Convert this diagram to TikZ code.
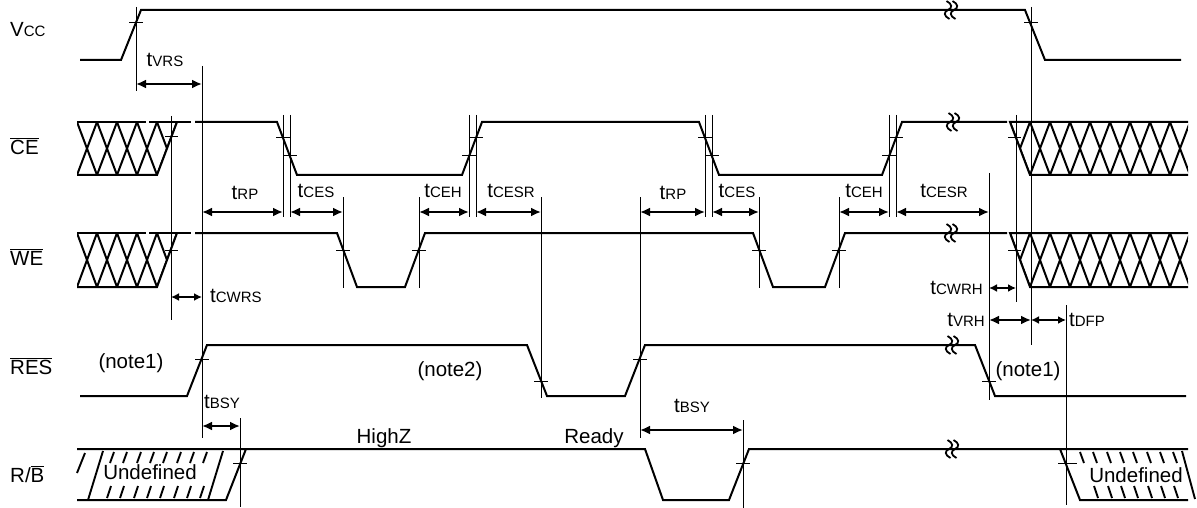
\documentclass[tikz,border=0pt]{standalone}
\usepackage{fontspec}
\setmainfont{Liberation Sans}
\usetikzlibrary{arrows.meta}
\newcommand\bigt{\fontsize{20.5}{24}\selectfont}
\newcommand\smallc{\fontsize{15}{18}\selectfont}
\newcommand\tlab[1]{{\bigt t}{\smallc #1}}
\newcommand\ovl[1]{$\overline{\mbox{#1}}$}
\newcommand\brkmark[2]{%
  \foreach \dd in {-3,3}{%
    \draw[brkline,shift={(#1+\dd,#2)}] (-1.5,-9) .. controls (4.5,-6) and (4.5,-2) .. (0,0) .. controls (-4.5,2) and (-4.5,6) .. (1.5,9);}}
\newcommand\vtick[3]{\draw[thin] (#1-7,#2) -- (#1+7,#2);}
\tikzset{
  sig/.style={line width=2pt, line join=miter},
  thin/.style={line width=1pt},
  hat/.style={line width=1.9pt},
  dim/.style={line width=2pt, {Latex[length=10pt,width=9pt]}-{Latex[length=10pt,width=9pt]}},
  sdim/.style={line width=2pt, {Latex[length=8pt,width=8pt]}-{Latex[length=8pt,width=8pt]}},
  lbl/.style={font=\bigt, inner sep=0pt, anchor=base},
  brkline/.style={line width=1.8pt},
}
\begin{document}
\begin{tikzpicture}[x=1pt,y=-1pt]
\useasboundingbox (0,0) rectangle (1197,508);

% ---------- row labels ----------
\node[lbl,anchor=base west] (lvcc) at (10,37) {V{\smallc CC}};
\node[lbl,anchor=base west] (lce)  at (10,154) {\ovl{CE}};
\node[lbl,anchor=base west] (lwe)  at (10,265) {\ovl{WE}};
\node[lbl,anchor=base west] (lres) at (10,374) {\ovl{RES}};
\node[lbl,anchor=base west] (lrb)  at (10,482) {R/\ovl{B}};

% ---------- Vcc ----------
\draw[sig] (80,60) -- (121,60) -- (141,10) -- (1025,10) -- (1045,60) -- (1181,60);
\brkmark{951}{10}

% ---------- CE ----------
\def\T{122}\def\B{175}
\begin{scope}
  \clip (77,\T) -- (177,\T) -- (157,\B) -- (77,\B) -- cycle;
  \foreach \x in {77,97,117,137,157}{\draw[sig] (\x,\T) -- (\x+20,\B); \draw[sig] (\x,\B) -- (\x+20,\T);}
\end{scope}
\draw[sig] (77,\T) -- (146,\T); \draw[sig] (149,\T) -- (191,\T);
\draw[sig] (77,\B) -- (157,\B) -- (177,\T);
\draw[sig] (195,\T) -- (277,\T) -- (297,\B) -- (462,\B) -- (482,\T) -- (699,\T) -- (719,\B) -- (882,\B) -- (902,\T) -- (1007,\T);
\begin{scope}
  \clip (1010,\T) -- (1188,\T) -- (1188,\B) -- (1030,\B) -- cycle;
  \foreach \x in {1010,1030,...,1170}{\draw[sig] (\x,\T) -- (\x+20,\B); \draw[sig] (\x,\B) -- (\x+20,\T);}
\end{scope}
\draw[sig] (1188,\T) -- (1010,\T) -- (1030,\B) -- (1188,\B);
\brkmark{953}{122}

% ---------- WE ----------
\def\T{233}\def\B{287}
\begin{scope}
  \clip (77,\T) -- (177,\T) -- (157,\B) -- (77,\B) -- cycle;
  \foreach \x in {77,97,117,137,157}{\draw[sig] (\x,\T) -- (\x+20,\B); \draw[sig] (\x,\B) -- (\x+20,\T);}
\end{scope}
\draw[sig] (77,\T) -- (146,\T); \draw[sig] (149,\T) -- (191,\T);
\draw[sig] (77,\B) -- (157,\B) -- (177,\T);
\draw[sig] (195,\T) -- (337,\T) -- (357,\B) -- (405,\B) -- (425,\T) -- (753,\T) -- (773,\B) -- (825,\B) -- (845,\T) -- (1007,\T);
\begin{scope}
  \clip (1010,\T) -- (1188,\T) -- (1188,\B) -- (1030,\B) -- cycle;
  \foreach \x in {1010,1030,...,1170}{\draw[sig] (\x,\T) -- (\x+20,\B); \draw[sig] (\x,\B) -- (\x+20,\T);}
\end{scope}
\draw[sig] (1188,\T) -- (1010,\T) -- (1030,\B) -- (1188,\B);
\brkmark{951}{233}

% ---------- RES ----------
\draw[sig] (80,396) -- (187,396) -- (207,345) -- (527,345) -- (547,396) -- (625,396) -- (645,345) -- (975,345) -- (995,396) -- (1186,396);
\brkmark{952}{345}

% ---------- R/B ----------
\draw[sig] (77,449) -- (645,449) -- (663,500) -- (729,500) -- (749,449) -- (1188,449);
\draw[sig] (77,500) -- (226,500) -- (246,449);
\draw[sig] (1060,449) -- (1080,500) -- (1188,500);
\brkmark{952}{449}
% left hatching
\draw[hat] (77,473) -- (85,453);
\draw[hat] (88,500) -- (103,451);
\foreach \x in {110,123,137,150,163,177,190,203}{\draw[hat] (\x,463) -- (\x+4,452); \draw[hat] (\x-3,498) -- (\x+1,486);}
\draw[hat] (208,500) -- (223,451);
% right hatching
\foreach \x in {1080,1093,1107,1120,1133,1147,1160,1173}{\draw[hat] (\x,452) -- (\x+4,463);}
\foreach \x in {1093,1107,1120,1133,1147,1160,1173}{\draw[hat] (\x+1,486) -- (\x+5,498);}
\draw[hat] (1182,451) -- (1195,499);

% ---------- reference lines ----------
\draw[thin] (136,7) -- (136,91);
\draw[thin] (202,66) -- (202,438);
\draw[thin] (171,116) -- (171,320);
\foreach \x in {283,290,469,476,705,712,889,896}{\draw[thin] (\x,115) -- (\x,217);}
\foreach \x in {343,419,759,839}{\draw[thin] (\x,197) -- (\x,288);}
\draw[thin] (541,197) -- (541,398);
\draw[thin] (640,197) -- (640,438);
\draw[thin] (989,173) -- (989,400);
\draw[thin] (1016,115) -- (1016,302);
\draw[thin] (1031,7) -- (1031,345);
\draw[thin] (1066,305) -- (1066,505);
\draw[thin] (240,418) -- (240,507);
\draw[thin] (743,420) -- (743,508);

% ---------- threshold ticks ----------
\vtick{136}{23}{}
\vtick{1031}{23}{}
\draw[thin] (165,137) -- (178,137);
\vtick{283}{138}{} \vtick{290}{156}{}
\vtick{469}{156}{} \vtick{476}{138}{}
\vtick{705}{138}{} \vtick{712}{156}{}
\vtick{889}{156}{} \vtick{896}{138}{}
\draw[thin] (1008,138) -- (1021,138);
\draw[thin] (165,250) -- (178,250);
\vtick{343}{250}{} \vtick{419}{250}{} \vtick{759}{250}{} \vtick{839}{250}{}
\draw[thin] (1008,250) -- (1021,250);
\vtick{202}{359}{} \vtick{541}{381}{} \vtick{640}{359}{} \vtick{989}{381}{}
\vtick{240}{463}{} \vtick{743}{463}{}
\draw[thin] (1058,463) -- (1077,463);

% ---------- dimension arrows ----------
\draw[dim] (136,84) -- (202,84);
\draw[dim] (202,212) -- (283,212);
\draw[dim] (290,212) -- (343,212);
\draw[dim] (419,212) -- (469,212);
\draw[dim] (476,212) -- (541,212);
\draw[dim] (640,212) -- (705,212);
\draw[dim] (712,212) -- (759,212);
\draw[dim] (839,212) -- (889,212);
\draw[dim] (896,212) -- (989,212);
\draw[sdim] (171,297) -- (202,297);
\draw[sdim] (989,288) -- (1016,288);
\draw[dim] (989,320) -- (1031,320);
\draw[sdim] (1031,320) -- (1066,320);
\draw[dim] (202,426) -- (240,426);
\draw[dim] (640,430) -- (743,430);

% ---------- timing labels ----------
\node[lbl] (tvrs)  at (165,67)  {\tlab{VRS}};
\node[lbl] (trp1)  at (245,200) {\tlab{RP}};
\node[lbl] (tces1) at (316,197) {\tlab{CES}};
\node[lbl] (tceh1) at (443,197) {\tlab{CEH}};
\node[lbl] (tcesr1) at (511,197) {\tlab{CESR}};
\node[lbl] (trp2)  at (673,200) {\tlab{RP}};
\node[lbl] (tces2) at (737,197) {\tlab{CES}};
\node[lbl] (tceh2) at (864,197) {\tlab{CEH}};
\node[lbl] (tcesr2) at (944,197) {\tlab{CESR}};
\node[lbl,anchor=base west] (tcwrs) at (210,302) {\tlab{CWRS}};
\node[lbl,anchor=base east] (tcwrh) at (983,294) {\tlab{CWRH}};
\node[lbl,anchor=base east] (tvrh) at (985,326) {\tlab{VRH}};
\node[lbl,anchor=base west] (tdfp) at (1069,326) {\tlab{DFP}};
\node[lbl] (tbsy1) at (222,408) {\tlab{BSY}};
\node[lbl] (tbsy2) at (692,412) {\tlab{BSY}};
\node[lbl] (n1a) at (131,368) {(note1)};
\node[lbl] (n2)  at (450,376) {(note2)};
\node[lbl] (n1b) at (1028,376) {(note1)};
\node[lbl] (hz)  at (384,443) {HighZ};
\node[lbl] (rdy) at (594,443) {Ready};
\node[lbl] (und1) at (150,479) {Undefined};
\node[lbl] (und2) at (1136,482) {Undefined};
\end{tikzpicture}
\end{document}
